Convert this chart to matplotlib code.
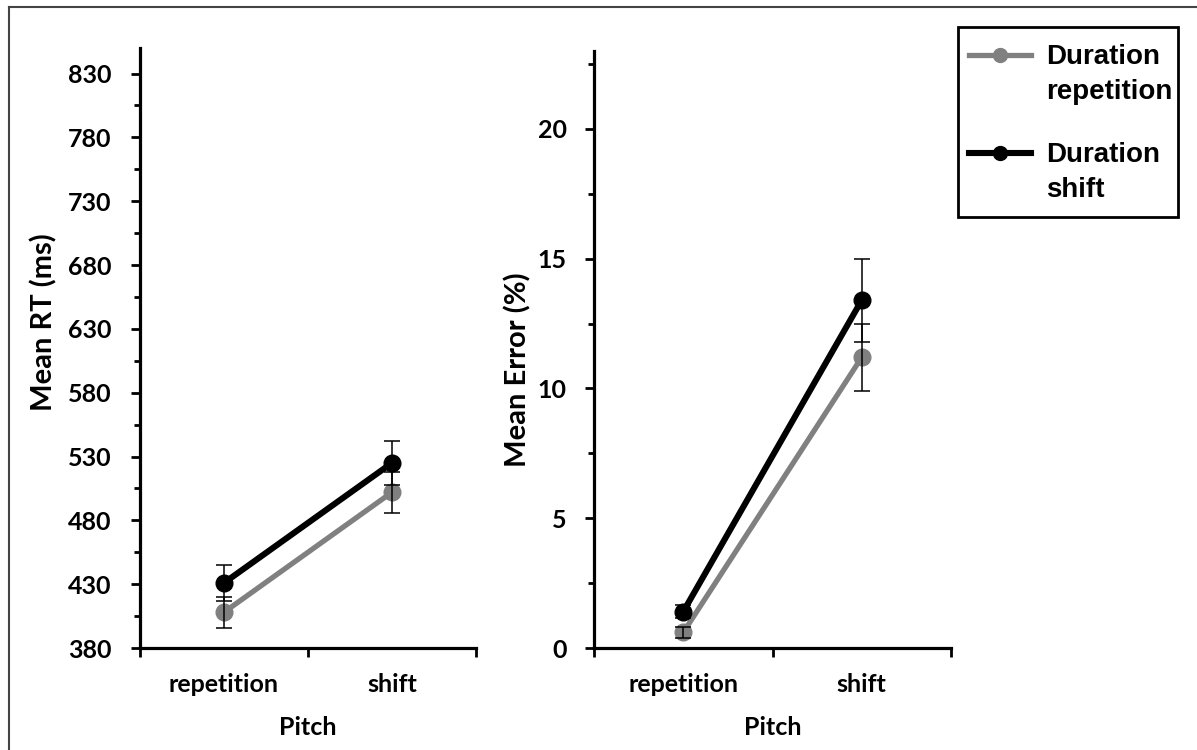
import matplotlib
matplotlib.use('Agg')
import matplotlib.pyplot as plt
from matplotlib.lines import Line2D
from matplotlib.patches import Rectangle
from matplotlib.ticker import MultipleLocator

# data
CATEGORIES = ["repetition", "shift"]
SERIES     = ["Duration\nrepetition", "Duration\nshift"]

RT_REP     = [408, 502]      # duration repetition
RT_REP_ERR = [12, 16]
RT_SHF     = [431, 525]      # duration shift
RT_SHF_ERR = [14, 17]

ER_REP     = [0.6, 11.2]
ER_REP_ERR = [0.2, 1.3]
ER_SHF     = [1.4, 13.4]
ER_SHF_ERR = [0.25, 1.6]

COLOURS = ["#808080", "#000000"]
LWS     = [3.8, 4.4]

FONT    = "Lato"
TICK_FS = 18
YLAB_FS = 21

XPOS = [0.5, 1.5]


def style_axis(ax, ylim, major, minor, ypad):
    ax.set_xlim(0, 2)
    ax.set_ylim(*ylim)
    for s in ["top", "right"]:
        ax.spines[s].set_visible(False)
    for s in ["left", "bottom"]:
        ax.spines[s].set_linewidth(2.3)
    lo = ylim[0]
    ax.yaxis.set_major_locator(MultipleLocator(major, offset=lo % major))
    ax.yaxis.set_minor_locator(MultipleLocator(minor, offset=lo % minor))
    ax.set_xticks([0, 1, 2])
    ax.set_xticklabels([])
    ax.set_xticks(XPOS, minor=True)
    ax.set_xticklabels(CATEGORIES, minor=True)
    ax.tick_params(axis="y", which="major", direction="out", length=6.5,
                   width=2, pad=ypad)
    ax.tick_params(axis="y", which="minor", direction="out", length=4.5,
                   width=2)
    ax.tick_params(axis="x", which="major", direction="out", length=6.5,
                   width=2)
    ax.tick_params(axis="x", which="minor", length=0, pad=18)
    for lab in ax.get_yticklabels() + ax.get_xticklabels(minor=True):
        lab.set_fontfamily(FONT)
        lab.set_fontweight("bold")
        lab.set_fontsize(TICK_FS)


def draw(ax, vals, errs):
    for v, e, c, lw in zip(vals, errs, COLOURS, LWS):
        ax.plot(XPOS, v, "o-", color=c, lw=lw, ms=12, zorder=3,
                solid_capstyle="butt")
        ax.errorbar(XPOS, v, yerr=e, fmt="none", ecolor="black",
                    elinewidth=1.1, capsize=5.5, capthick=1.1, zorder=4)


fig = plt.figure(figsize=(11.97, 7.5), dpi=100)
W, H = 1197, 750

def fx(px):
    return px / W

def fy(py):
    return 1 - py / H

ax1 = fig.add_axes([fx(140), 102/H, 336/W, 600/H])
ax2 = fig.add_axes([fx(594), 102/H, 357/W, 597/H])

draw(ax1, [RT_REP, RT_SHF], [RT_REP_ERR, RT_SHF_ERR])
draw(ax2, [ER_REP, ER_SHF], [ER_REP_ERR, ER_SHF_ERR])

style_axis(ax1, (380, 850), 50, 25, 14)
style_axis(ax2, (0, 23), 5, 2.5, 13)

xlab_kw = dict(fontfamily=FONT, fontweight="bold", fontsize=TICK_FS)
ylab_kw = dict(fontfamily=FONT, fontweight="bold", fontsize=YLAB_FS)
ax1.set_ylabel("Mean RT (ms)", **ylab_kw)
ax1.yaxis.set_label_coords(-0.247, 0.543)
ax1.set_xlabel("Pitch", **xlab_kw)
ax1.xaxis.set_label_coords(0.5, -0.113)

ax2.set_ylabel("Mean Error (%)", **ylab_kw)
ax2.yaxis.set_label_coords(-0.174, 0.466)
ax2.set_xlabel("Pitch", **xlab_kw)
ax2.xaxis.set_label_coords(0.5, -0.114)

# legend box drawn by hand: handle sits level with the first text line
fig.add_artist(Rectangle((fx(958), fy(217)), fx(1178) - fx(958),
                         fy(27) - fy(217), transform=fig.transFigure,
                         fill=False, edgecolor="black", lw=2))
leg_font = dict(family="Liberation Sans", weight="bold", size=20)
for i, (name, c, lw) in enumerate(zip(SERIES, COLOURS, LWS)):
    y0 = 55 + i * 98
    fig.add_artist(Line2D([fx(969), fx(1031)], [fy(y0), fy(y0)],
                          transform=fig.transFigure, color=c, lw=lw))
    fig.add_artist(Line2D([fx(1000)], [fy(y0)], transform=fig.transFigure,
                          color=c, marker="o", ms=10))
    fig.text(fx(1046), fy(y0 - 11), name, ha="left", va="top",
             linespacing=1.45, fontdict=leg_font)

# thin border round the figure (left and top edges visible)
fig.add_artist(Line2D([fx(9), fx(9)], [0, fy(7)],
                      transform=fig.transFigure, color="#444444", lw=1.5))
fig.add_artist(Line2D([fx(9), 1], [fy(7), fy(7)],
                      transform=fig.transFigure, color="#444444", lw=1.5))

fig.savefig("out.png", dpi=100)
